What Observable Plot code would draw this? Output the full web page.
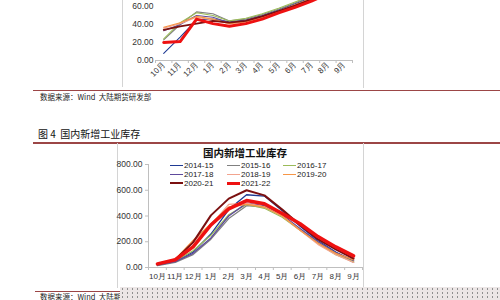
<!DOCTYPE html>
<html><head><meta charset="utf-8">
<script src="https://cdn.jsdelivr.net/npm/d3@7"></script>
<script src="https://cdn.jsdelivr.net/npm/@observablehq/plot@0.6"></script>
<style>
html,body{margin:0;padding:0;background:#fff;}
body{width:500px;height:300px;overflow:hidden;position:relative;font-family:"Liberation Sans",Arial,sans-serif;}
.abs{position:absolute;}
.cjk{font-family:"Noto Sans CJK SC","Liberation Sans",sans-serif;white-space:nowrap;}
.rule{position:absolute;height:1.5px;background:#9c4646;}
.vb{position:absolute;width:1px;background:#d4d4d4;}
.lg{position:absolute;font-size:8px;line-height:9px;color:#222;white-space:nowrap;}
.lg span.sw{display:inline-block;width:13px;vertical-align:middle;margin-right:1px;}
#dots{position:absolute;left:120px;top:287px;width:380px;height:13px;background-color:#ece6e6;
 background-image:radial-gradient(circle,#8f8f8f 0.8px,transparent 1.1px);background-size:5px 4px;z-index:5;}
</style></head><body>
<div class="vb" style="left:122px;top:0;height:87px;"></div>
<div class="vb" style="left:363px;top:0;height:88px;"></div>
<div id="top" class="abs" style="left:100px;top:-40px;"></div>
<div class="rule" style="left:33px;top:89.5px;width:467px;"></div>
<div class="abs cjk" style="left:40px;top:92px;font-size:7.5px;line-height:10px;color:#222;">数据来源：Wind&nbsp; 大陆期货研发部</div>
<div class="abs cjk" style="left:38px;top:128px;font-size:10px;line-height:12px;color:#111;">图 4&nbsp; 国内新增工业库存</div>
<div class="rule" style="left:33px;top:142px;width:467px;"></div>
<div class="vb" style="left:117px;top:143px;height:145px;"></div>
<div class="vb" style="left:363px;top:143px;height:145px;"></div>
<div id="bottom" class="abs" style="left:100px;top:150px;"></div>
<div class="abs cjk" style="left:195px;top:146px;width:100px;text-align:center;font-size:10.5px;line-height:13px;font-weight:bold;color:#111;">国内新增工业库存</div>
<div id="legend"></div>
<div class="rule" style="left:35px;top:290.5px;width:85px;"></div>
<div class="abs cjk" style="left:40px;top:292px;font-size:7.5px;line-height:10px;color:#222;">数据来源：Wind&nbsp; 大陆期货研发部</div>
<div id="dots"></div>
<script>
const months = ["10月","11月","12月","1月","2月","3月","4月","5月","6月","7月","8月","9月"];
const seasons = ["2014-15","2015-16","2016-17","2017-18","2018-19","2019-20","2020-21","2021-22"];

// upper (cut-off) chart
const top2014_15 = [8, 26, 45, 46, 43, 45, 50, 56, 63, 70, 78, 86];
const top2015_16 = [23, 40, 54, 52, 44, 46, 51, 57, 64, 71, 79, 87];
const top2016_17 = [24, 42, 53, 50, 44, 47, 52, 58, 65, 72, 80, 88];
const top2017_18 = [33, 40, 50, 48, 42, 44, 49, 55, 62, 69, 77, 85];
const top2018_19 = [36, 41, 48, 45, 41, 43, 48, 54, 61, 68, 76, 84];
const top2019_20 = [37, 42, 49, 46, 41, 43, 48, 55, 62, 69, 77, 85];
const top2020_21 = [34, 38, 41, 44, 42, 44, 49, 55, 61, 68, 76, 84];
const top2021_22 = [20, 21, 46, 41, 38, 41, 46, 53, 59, 66, 74, 82];
const topTicks = [0, 20, 40, 60];

// 国内新增工业库存
const inv2014_15 = [20, 45, 120, 260, 450, 565, 555, 440, 320, 210, 120, 50];
const inv2015_16 = [15, 40, 100, 220, 380, 480, 470, 400, 300, 200, 110, 40];
const inv2016_17 = [20, 50, 130, 250, 410, 490, 460, 390, 290, 190, 100, 45];
const inv2017_18 = [18, 45, 110, 230, 400, 500, 480, 410, 300, 200, 115, 55];
const inv2018_19 = [25, 60, 200, 330, 490, 500, 470, 400, 290, 180, 100, 40];
const inv2019_20 = [30, 65, 210, 340, 470, 490, 470, 400, 290, 190, 110, 60];
const inv2020_21 = [25, 60, 195, 405, 535, 600, 560, 450, 330, 220, 140, 70];
const inv2021_22 = [28, 60, 160, 330, 455, 520, 495, 420, 340, 240, 160, 90];
const invTicks = [0, 200, 400, 600, 800];

// styles
const colors = ["#1f3a93","#808080","#9bbb59","#5e4a9c","#f2a48f","#f79646","#7b1010","#ee1111"];
const widths = [1.3,1.3,1.3,1.3,1.4,1.3,2,3.5];

function toRows(arrs){
  return seasons.flatMap((s,i)=>arrs[i].map((v,j)=>({season:s, m:j, v})));
}
const topRows = toRows([top2014_15,top2015_16,top2016_17,top2017_18,top2018_19,top2019_20,top2020_21,top2021_22]);
const invRows = toRows([inv2014_15,inv2015_16,inv2016_17,inv2017_18,inv2018_19,inv2019_20,inv2020_21,inv2021_22]);
const idx = months.map((_,i)=>i);
const bounds = [...idx.map(i=>i-0.5), months.length-0.5];

function lineMarks(rows, wscale){
  return seasons.map((s,i)=>Plot.line(rows.filter(d=>d.season===s),{x:"m",y:"v",stroke:colors[i],strokeWidth:widths[i]*wscale,strokeLinejoin:"round"}));
}

const topChart = Plot.plot({
  width:270, height:130, marginLeft:55, marginRight:18, marginTop:10, marginBottom:30,
  style:{fontFamily:"Liberation Sans, Arial, sans-serif", fontSize:"8.5px", color:"#333", background:"transparent", overflow:"visible"},
  x:{domain:[-0.5, months.length-0.5]},
  y:{domain:[0,100]},
  marks:[
    Plot.ruleY([0],{stroke:"#bfbfbf"}),
    Plot.axisY({ticks:topTicks, tickSize:0, tickPadding:2, tickFormat:d=>d.toFixed(2), label:null, fill:"#333"}),
    Plot.axisX({ticks:bounds, tickSize:3, stroke:"#bfbfbf", tickFormat:()=>"", label:null}),
    Plot.axisX({ticks:idx, tickSize:0, tickPadding:3, tickRotate:-45, textAnchor:"end", tickFormat:i=>months[i], label:null, fill:"#333", fontSize:8}),
    ...lineMarks(topRows, 0.85)
  ]
});
document.getElementById("top").append(topChart);

const botChart = Plot.plot({
  width:270, height:140, marginLeft:48, marginRight:8, marginTop:14, marginBottom:23,
  style:{fontFamily:"Liberation Sans, Arial, sans-serif", fontSize:"8.5px", color:"#333", background:"transparent", overflow:"visible"},
  x:{domain:[-0.5, months.length-0.5]},
  y:{domain:[0,800]},
  marks:[
    Plot.ruleY([0],{stroke:"#bfbfbf"}),
    Plot.frame({anchor:"left", stroke:"#bfbfbf"}),
    Plot.axisY({ticks:invTicks, tickSize:3, tickPadding:3, stroke:"#bfbfbf", fill:"#333", tickFormat:d=>d.toFixed(2), label:null}),
    Plot.axisX({ticks:bounds, tickSize:3, stroke:"#bfbfbf", tickFormat:()=>"", label:null}),
    Plot.axisX({ticks:idx, tickSize:0, tickPadding:6, tickFormat:i=>months[i], label:null, fill:"#333", fontSize:8}),
    ...lineMarks(invRows, 1)
  ]
});
document.getElementById("bottom").append(botChart);

// legend (3 columns)
const colX = [170, 227, 283];
const rowY = [165, 174, 183];
const lg = document.getElementById("legend");
seasons.forEach((s,i)=>{
  const d = document.createElement("div");
  d.className = "lg";
  d.style.left = colX[i%3]+"px";
  d.style.top = (rowY[Math.floor(i/3)]-4.5)+"px";
  const sw = document.createElement("span");
  sw.className = "sw";
  sw.style.borderTop = Math.max(1.3, widths[i])+"px solid "+colors[i];
  d.append(sw, document.createTextNode(s));
  lg.append(d);
});
</script>
</body></html>
